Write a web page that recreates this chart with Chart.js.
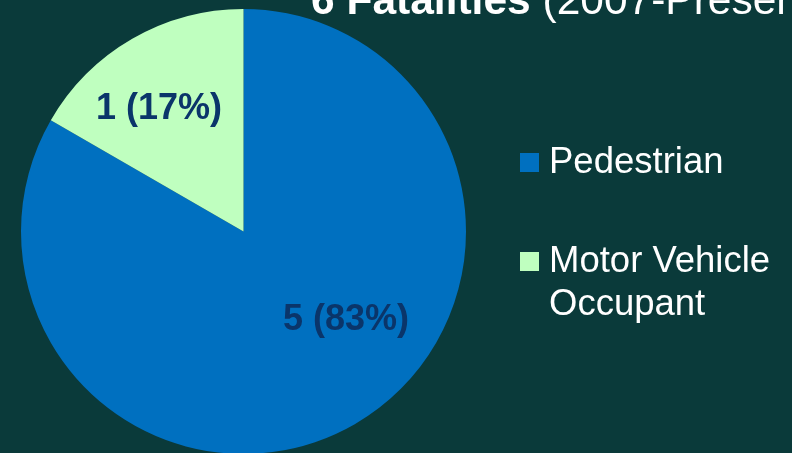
<!DOCTYPE html>
<html>
<head>
<meta charset="utf-8">
<script src="https://cdn.jsdelivr.net/npm/chart.js@4.4.1/dist/chart.umd.min.js"></script>
<style>
    html, body { margin: 0; padding: 0; }
    body {
        width: 792px; height: 453px; overflow: hidden; position: relative;
        background: #0a3a3a; font-family: "Liberation Sans", Arial, sans-serif; color: #fff;
    }
    #chartBox { position: absolute; left: 0; top: 0; width: 792px; height: 454px; }
    #title { position: absolute; left: 311px; top: -21px; font-size: 42.5px; line-height: 42px; white-space: nowrap; }
    #title b { font-weight: bold; }
    #legend { position: absolute; left: 520px; top: 0; font-size: 36.5px; line-height: 43px; }
    .item { position: absolute; left: 0; white-space: nowrap; }
    .swatch { position: absolute; left: 0; width: 19px; height: 19px; }
    .text { position: absolute; left: 29px; }
</style>
</head>
<body>
<div id="chartBox"><canvas id="pie"></canvas></div>
<div id="title"><b>6 Fatalities</b> (2007-Present)</div>
<div id="legend"></div>
<script>
// data
const categories = ['Pedestrian', 'Motor Vehicle Occupant'];
const legendLines = [['Pedestrian'], ['Motor Vehicle', 'Occupant']];
const fatalities = [5, 1];
const sliceColors = ['#0070c0', '#bfffbf'];

const total = fatalities.reduce((a, b) => a + b, 0);

// labels like "5 (83%)" placed inside each slice
const sliceLabels = {
    id: 'sliceLabels',
    afterDatasetsDraw(chart, args, opts) {
        const ctx = chart.ctx;
        const meta = chart.getDatasetMeta(0);
        ctx.save();
        ctx.font = 'bold 36px "Liberation Sans", Arial, sans-serif';
        ctx.fillStyle = opts.color;
        ctx.textAlign = 'center';
        ctx.textBaseline = 'middle';
        meta.data.forEach((arc, i) => {
            const p = arc.getProps(['x', 'y', 'startAngle', 'endAngle', 'outerRadius'], true);
            const place = opts.placement[i];
            const mid = (p.startAngle + p.endAngle) / 2 + place.shift * Math.PI / 180;
            const r = p.outerRadius * place.f;
            const v = chart.data.datasets[0].data[i];
            const text = v + ' (' + Math.round(v / total * 100) + '%)';
            ctx.fillText(text, p.x + Math.cos(mid) * r, p.y + Math.sin(mid) * r);
        });
        ctx.restore();
    }
};

const myChart = new Chart(document.getElementById('pie'), {
    type: 'pie',
    data: {
        labels: categories,
        datasets: [{
            data: fatalities,
            backgroundColor: sliceColors,
            borderWidth: 0
        }]
    },
    options: {
        responsive: true,
        maintainAspectRatio: false,
        animation: false,
        layout: { padding: { left: 21, right: 326, top: 9, bottom: 0 } },
        plugins: {
            legend: { display: false },
            tooltip: { enabled: false },
            sliceLabels: {
                color: '#0a356a',
                placement: [{f: 0.61, shift: -19}, {f: 0.67, shift: -4.5}]
            }
        }
    },
    plugins: [sliceLabels]
});

// html legend so the long label can wrap like the original
const legendTops = [139, 238];
const legendDiv = document.getElementById('legend');
categories.forEach((name, i) => {
    const item = document.createElement('div');
    item.className = 'item';
    item.style.top = legendTops[i] + 'px';
    item.innerHTML = `<div class="swatch" style="background:${sliceColors[i]};top:14px"></div>
        <div class="text">${legendLines[i].join('<br>')}</div>`;
    legendDiv.appendChild(item);
});
</script>
</body>
</html>
